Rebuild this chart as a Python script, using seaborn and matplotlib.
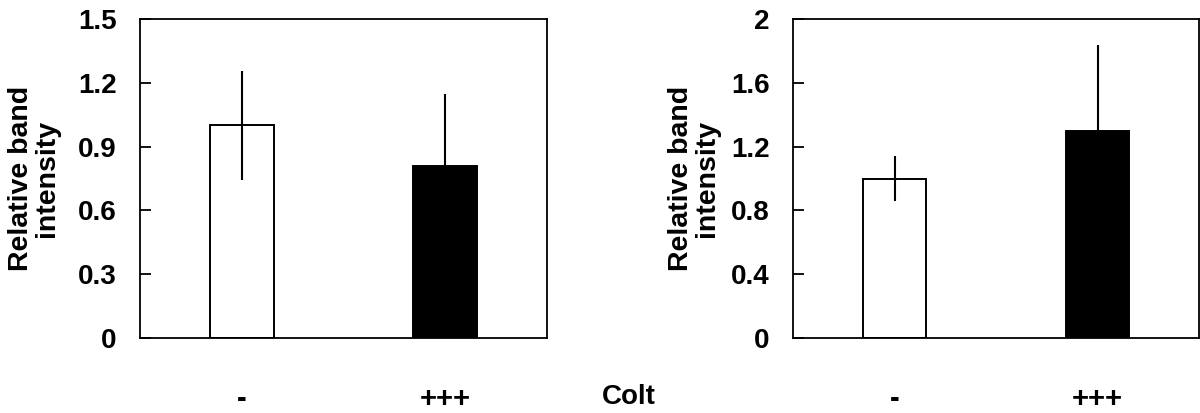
import matplotlib
matplotlib.use("Agg")
import matplotlib.pyplot as plt
import seaborn as sns
import pandas as pd

categories = ["-", "+++"]
left_values = [1.0, 0.81]
left_errors = [0.255, 0.335]
right_values = [1.0, 1.30]
right_errors = [0.14, 0.535]
left_yticks = [0, 0.3, 0.6, 0.9, 1.2, 1.5]
left_yticklabels = ["0", "0.3", "0.6", "0.9", "1.2", "1.5"]
right_yticks = [0, 0.4, 0.8, 1.2, 1.6, 2.0]
right_yticklabels = ["0", "0.4", "0.8", "1.2", "1.6", "2"]
ylabel = "Relative band\nintensity"
group_label = "Colt"
bar_colors = ["white", "black"]

sns.set_theme(style="white")
plt.rcParams["font.family"] = ["Liberation Sans", "DejaVu Sans"]
plt.rcParams["font.weight"] = "bold"
plt.rcParams["text.color"] = "black"
plt.rcParams["axes.labelcolor"] = "black"
plt.rcParams["xtick.color"] = "black"
plt.rcParams["ytick.color"] = "black"

W, H = 1200, 413
fig = plt.figure(figsize=(W / 100, H / 100), dpi=100)

def px_axes(x0, x1, y0, y1):
    return fig.add_axes([x0 / W, 1 - y1 / H, (x1 - x0) / W, (y1 - y0) / H])

ax1 = px_axes(140, 547, 19, 338)
ax2 = px_axes(793, 1199, 19, 338)

FS = 20

def draw(ax, values, errors, yticks, yticklabels, ymax, label_x):
    df = pd.DataFrame({"cat": categories, "val": values})
    sns.barplot(data=df, x="cat", y="val", hue="cat", palette=bar_colors,
                edgecolor="black", linewidth=1.4, width=0.315,
                errorbar=None, legend=False, ax=ax, zorder=2)
    ax.errorbar(x=list(range(len(categories))), y=values, yerr=errors,
                fmt="none", ecolor="black", elinewidth=1.5, capsize=0, zorder=3)
    ax.set_xlim(-0.5, 1.5)
    ax.set_ylim(0, ymax)
    ax.set_yticks(yticks)
    ax.set_yticklabels(yticklabels, fontsize=FS, fontweight="bold", color="black")
    ax.set_xticks(range(len(categories)))
    ax.set_xticklabels(categories, fontsize=FS + 1, fontweight="bold", color="black")
    ax.tick_params(axis="y", direction="in", length=8, width=1.3, pad=17,
                   left=True, colors="black")
    ax.tick_params(axis="x", length=0, pad=34, colors="black")
    ax.set_xlabel("")
    ax.set_ylabel(ylabel, fontsize=FS + 0.5, fontweight="bold", linespacing=1.0,
                  color="black")
    ax.yaxis.set_label_coords(label_x, 0.5)
    for s in ax.spines.values():
        s.set_visible(True)
        s.set_color("black")
        s.set_linewidth(1.3)
    ax.grid(False)

draw(ax1, left_values, left_errors, left_yticks, left_yticklabels, 1.5, -0.197)
draw(ax2, right_values, right_errors, right_yticks, right_yticklabels, 2.0, -0.18)

fig.text(629 / W, 1 - 397 / H, group_label, fontsize=FS, fontweight="bold",
         ha="center", va="center", color="black")

fig.savefig("out.png", dpi=100, facecolor="white")
